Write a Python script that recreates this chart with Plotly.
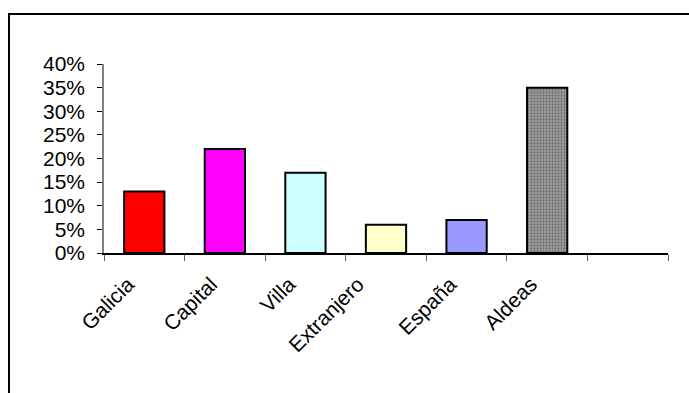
import plotly.graph_objects as go

categories = ["Galicia", "Capital", "Villa", "Extranjero", "España", "Aldeas", " "]
values = [0.13, 0.22, 0.17, 0.06, 0.07, 0.35, None]
bar_colors = ["#FF0000", "#FF00FF", "#CCFFFF", "#FFFFCC", "#9999FF", "#A0A0A0", "#FFFFFF"]
pattern_shapes = ["", "", "", "", "", ".", ""]
tick_vals = [0, 0.05, 0.10, 0.15, 0.20, 0.25, 0.30, 0.35, 0.40]
tick_text = ["0%", "5%", "10%", "15%", "20%", "25%", "30%", "35%", "40%"]

font_family = "Liberation Sans, Arial, sans-serif"
FS = 21

fig = go.Figure()
fig.add_trace(go.Bar(
    x=categories,
    y=values,
    width=0.5,
    marker=dict(
        color=bar_colors,
        line=dict(color="#000000", width=2),
        pattern=dict(shape=pattern_shapes, fgcolor="#7A7A7A", bgcolor="#A8A8A8",
                     size=3, solidity=0.45),
    ),
    hoverinfo="skip",
))

# label placement offsets (in category units) for the rotated labels
label_shift = [-0.2, -0.17, -0.2, -0.35, -0.2, -0.2]
label_pos = [i + s for i, s in enumerate(label_shift)]

# invisible helper trace so the label axis is drawn
fig.add_trace(go.Scatter(
    x=label_pos,
    y=values[:-1],
    xaxis="x2",
    yaxis="y",
    mode="markers",
    marker=dict(opacity=0, size=1),
    hoverinfo="skip",
    showlegend=False,
))

L, R, T, B = 104, 21, 64, 140
W, H = 689, 393
pw = W - L - R
ph = H - T - B

def px(x):
    return (x - L) / pw

def py(y):
    return (H - B - y) / ph

fig.add_shape(
    type="path",
    xref="paper", yref="paper",
    path=f"M {px(9)} {py(400)} L {px(9)} {py(14)} L {px(700)} {py(14)}",
    line=dict(color="#000000", width=2),
)

fig.update_layout(
    width=W, height=H,
    margin=dict(l=L, r=R, t=T, b=B, pad=0),
    paper_bgcolor="#FFFFFF",
    plot_bgcolor="#FFFFFF",
    showlegend=False,
    font=dict(family=font_family, size=FS, color="#000000"),
    bargap=0.5,
    xaxis=dict(
        type="category",
        categoryorder="array",
        categoryarray=categories,
        range=[-0.5, 6.5],
        tickson="boundaries",
        ticks="outside",
        ticklen=6,
        tickcolor="#606060",
        tickwidth=1,
        showticklabels=False,
        showline=True,
        linecolor="#000000",
        linewidth=1.5,
        showgrid=False,
        zeroline=False,
        automargin=False,
        fixedrange=True,
    ),
    xaxis2=dict(
        overlaying="x",
        anchor="y",
        side="bottom",
        type="linear",
        range=[-0.5, 6.5],
        tickmode="array",
        tickvals=label_pos,
        ticktext=categories[:-1],
        ticks="",
        tickangle=-45,
        ticklabelstandoff=14,
        tickfont=dict(family=font_family, size=FS, color="#000000"),
        showline=False,
        showgrid=False,
        zeroline=False,
        automargin=False,
        fixedrange=True,
    ),
    yaxis=dict(
        range=[0, 0.40],
        tickvals=tick_vals,
        ticktext=tick_text,
        ticks="outside",
        ticklen=5,
        tickcolor="#000000",
        tickwidth=1,
        ticklabelstandoff=8,
        tickfont=dict(family=font_family, size=FS, color="#000000"),
        showline=True,
        linecolor="#808080",
        linewidth=1.5,
        showgrid=False,
        zeroline=False,
        automargin=False,
        fixedrange=True,
    ),
)

fig.write_html("out.html")
